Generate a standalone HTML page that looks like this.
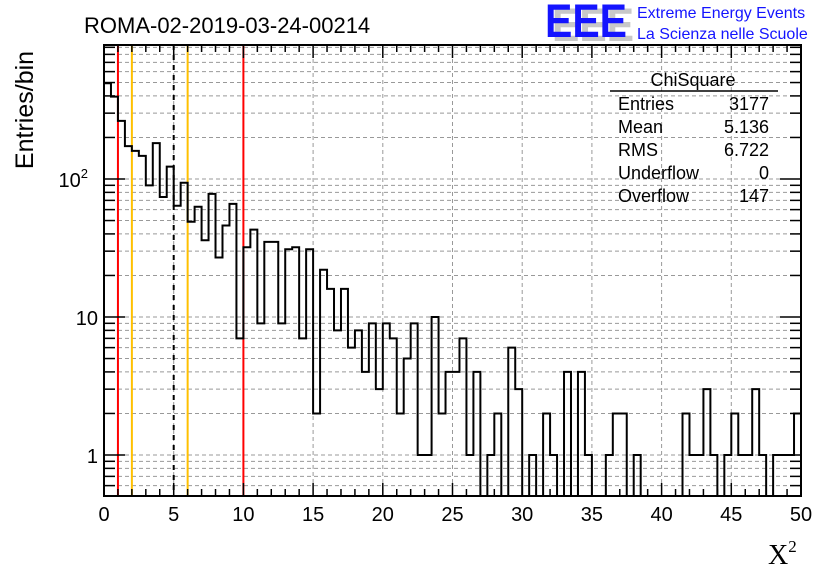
<!DOCTYPE html>
<html><head><meta charset="utf-8"><style>
html,body{margin:0;padding:0;background:#fff;}
svg{display:block;font-family:"Liberation Sans",sans-serif;}
</style></head><body>
<svg id="chart" width="836" height="572" viewBox="0 0 836 572" xmlns="http://www.w3.org/2000/svg">
<rect x="0" y="0" width="836" height="572" fill="#fff"/>
<g id="grid"></g>
<g id="refs"></g>
<g id="hist"></g>
<g id="axes"></g>
<text x="84" y="33" font-size="22">ROMA-02-2019-03-24-00214</text>
<g>
<text x="552" y="41" font-size="47" font-weight="bold" fill="#c8c8c8" textLength="82" lengthAdjust="spacingAndGlyphs">EEE</text>
<text x="545" y="37" font-size="47" font-weight="bold" fill="#1414ff" textLength="82" lengthAdjust="spacingAndGlyphs">EEE</text>
<text x="637" y="18" font-size="16" fill="#1414ff">Extreme Energy Events</text>
<text x="637" y="39" font-size="16" fill="#1414ff">La Scienza nelle Scuole</text>
</g>
<g font-size="18">
<text x="693" y="86" text-anchor="middle">ChiSquare</text>
<line x1="610" y1="91" x2="778" y2="91" stroke="#000" stroke-width="1.5"/>
<text x="618" y="110">Entries</text><text x="769" y="110" text-anchor="end">3177</text>
<text x="618" y="133">Mean</text><text x="769" y="133" text-anchor="end">5.136</text>
<text x="618" y="156">RMS</text><text x="769" y="156" text-anchor="end">6.722</text>
<text x="618" y="179">Underflow</text><text x="769" y="179" text-anchor="end">0</text>
<text x="618" y="202">Overflow</text><text x="769" y="202" text-anchor="end">147</text>
</g>
<text transform="translate(33,110) rotate(-90)" text-anchor="middle" font-size="25">Entries/bin</text>
<text x="768" y="564" font-size="28" font-family="Liberation Serif,serif">X<tspan font-size="17" dy="-12">2</tspan></text>
</svg>
<script>
const binValues = [494,395,264,173,160,147,90,182,74,123,64,94,49,63,36,78,27,46,66,7,
32,43,9,35,35,9,31,32,7,31,2,22,16,8,16,6,8,4,9,3,
9,7,2,5,9,1,1,10,2,4,4,7,1,4,0,1,2,0,6,3,
0,1,0,2,1,0,4,0,4,1,0,0,1,2,2,0,1,0,0,0,
0,0,0,2,1,1,3,1,0,1,2,1,1,3,1,0,1,1,1,2];
const xTicks = [0,5,10,15,20,25,30,35,40,45,50];
const yTickLabels = [{v:1,t:"1"},{v:10,t:"10"},{v:100,t:"10"}];
const refLines = [{v:1,c:"#ff0000",d:""},{v:10,c:"#ff0000",d:""},{v:2,c:"#ffc000",d:""},{v:6,c:"#ffc000",d:""},{v:5,c:"#000",d:"5,5"}];
const NS="http://www.w3.org/2000/svg";
const L=104,R=801,T=45,B=496;
const xMin=0,xMax=50;
function X(v){return L+(v-xMin)/(xMax-xMin)*(R-L);}
function Y(v){if(v<=0)return B;const y=455-138*Math.log10(v);return Math.max(T,Math.min(B,y));}
function mk(tag,attrs,parent){const e=document.createElementNS(NS,tag);for(const k in attrs)e.setAttribute(k,attrs[k]);parent.appendChild(e);return e;}
const grid=document.getElementById('grid'),refs=document.getElementById('refs'),hist=document.getElementById('hist'),axes=document.getElementById('axes');
xTicks.forEach(v=>{if(v===xMin||v===xMax)return;
 const g=mk('line',{x1:X(v),x2:X(v),y1:T,y2:B,stroke:'#999','stroke-dasharray':'4,3','stroke-width':1},grid);
 
 });
const yGridVals=[];
for(let d=0.1;d<=1000;d*=10){for(let m=1;m<10;m++){const v=+(m*d).toPrecision(3);const y=455-138*Math.log10(v);if(y>T+1&&y<B-1)yGridVals.push(v);}}
yGridVals.forEach(v=>{
 const g=mk('line',{x1:L,x2:R,y1:Y(v),y2:Y(v),stroke:'#999','stroke-dasharray':'4,3','stroke-width':1},grid);
 
 
 const isMaj=Math.abs(Math.log10(v)-Math.round(Math.log10(v)))<1e-6;
 const len=isMaj?21:11;
 const t1=mk('line',{x1:L,x2:L+len,y1:Y(v),y2:Y(v),stroke:'#000','stroke-width':1.5},axes);
 
 
 const t2=mk('line',{x1:R,x2:R-len,y1:Y(v),y2:Y(v),stroke:'#000','stroke-width':1.5},axes);
 
 });
refLines.forEach(r=>{
 const a={x1:X(r.v),x2:X(r.v),y1:T,y2:B,stroke:r.c,'stroke-width':2};
 if(r.d)a['stroke-dasharray']=r.d;
 const l=mk('line',a,refs);
 
 });
const bw=(xMax-xMin)/binValues.length;
let d='M'+X(0)+','+B;
binValues.forEach((v,i)=>{const y=Y(v);d+=' L'+X(i*bw)+','+y+' L'+X((i+1)*bw)+','+y;});
d+=' L'+X(xMax)+','+B;
const p=mk('path',{d:d,fill:'none',stroke:'#000','stroke-width':2},hist);


for(let v=xMin;v<=xMax;v+=1){const maj=v%5===0;const len=maj?13:7;
 const t=mk('line',{x1:X(v),x2:X(v),y1:B,y2:B-len,stroke:'#000','stroke-width':1.5},axes);
 
 
 const t2=mk('line',{x1:X(v),x2:X(v),y1:T,y2:T+len,stroke:'#000','stroke-width':1.5},axes);
 
 }
xTicks.forEach(v=>{const t=mk('text',{x:X(v),y:521,'font-size':20,'text-anchor':'middle'},axes);t.textContent=v;
 
 });
yTickLabels.forEach(o=>{const t=mk('text',{x:98,y:Y(o.v)+8,'font-size':20,'text-anchor':'end'},axes);
 t.textContent=o.t;
 if(o.v===100){t.setAttribute('x','88');const s=document.createElementNS(NS,'tspan');s.setAttribute('font-size','13');s.setAttribute('dy','-9');s.textContent='2';t.appendChild(s);}
 
 });
const fr=mk('rect',{x:L,y:T,width:R-L,height:B-T,fill:'none',stroke:'#000','stroke-width':2},axes);


</script>
</body></html>
